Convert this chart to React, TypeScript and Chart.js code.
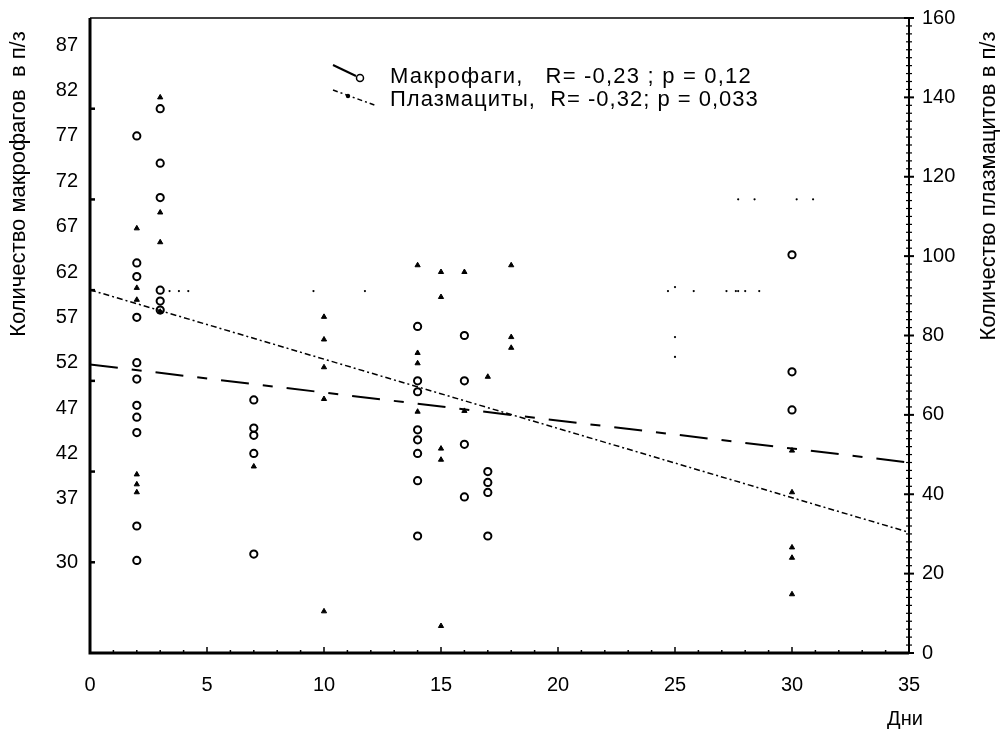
import React, { useEffect, useRef } from "react";
import { Chart, registerables } from "chart.js";

Chart.register(...registerables);

// ---- axis ticks ----
const xTickValues = [0, 5, 10, 15, 20, 25, 30, 35];
const leftTickValues = [30, 37, 42, 47, 52, 57, 62, 67, 72, 77, 82, 87];
const rightTickValues = [0, 20, 40, 60, 80, 100, 120, 140, 160];

// ---- macrophages (left axis) ----
const macroDays = [
  2, 2, 2, 2, 2, 2, 2, 2, 2, 2, 2,
  3, 3, 3, 3, 3, 3,
  7, 7, 7, 7, 7,
  14, 14, 14, 14, 14, 14, 14, 14,
  16, 16, 16, 16,
  17, 17, 17, 17,
  30, 30, 30,
];
const macroValues = [
  77, 63, 61.5, 57, 52, 50.2, 47.3, 46, 44.3, 34, 30.2,
  80, 74, 70.2, 60, 58.8, 57.8,
  47.9, 44.8, 44, 42, 30.9,
  56, 50, 48.8, 44.6, 43.5, 42, 39, 32.9,
  55, 50, 43, 37.2,
  40, 38.8, 37.7, 32.9,
  63.9, 51, 46.8,
];

// ---- plasmacytes (right axis), marked points ----
const plasmaDays = [
  2, 2, 2, 2, 2, 2,
  3, 3, 3, 3,
  7,
  10, 10, 10, 10, 10,
  14, 14, 14, 14,
  15, 15, 15, 15, 15,
  16, 16,
  17,
  18, 18, 18,
  30, 30, 30, 30, 30,
];
const plasmaValues = [
  107, 92, 89, 45, 42.5, 40.5,
  140, 111, 103.5, 86,
  47,
  84.7, 79, 72, 64, 10.5,
  97.7, 75.6, 73, 60.8,
  96, 89.7, 51.5, 48.7, 6.8,
  96, 61,
  69.6,
  97.7, 79.6, 76.9,
  51, 40.5, 26.6, 24, 14.8,
];

// ---- plasmacytes (right axis), faint dot points ----
const plasmaDotDays = [
  3.4, 3.8, 4.2, 9.55, 11.75,
  24.7, 25.0, 25.8, 27.2, 27.6, 27.7, 28.0, 28.6,
  27.7, 28.4, 30.2, 30.9,
  25.0, 25.0,
];
const plasmaDotValues = [
  91.2, 91.2, 91.2, 91.2, 91.2,
  91.2, 92.2, 91.2, 91.2, 91.2, 91.2, 91.2, 91.2,
  114.3, 114.3, 114.3, 114.3,
  79.6, 74.6,
];

// ---- regression lines ----
const fitDays = [0, 35];
const macroFit = [51.8, 41.0];
const plasmaFit = [91.5, 30.4];

// ---- texts ----
const leftTitle = "Количество макрофагов  в п/з";
const rightTitle = "Количество плазмацитов в п/з";
const xTitle = "Дни";
const legendLines = [
  "Макрофаги,   R= -0,23 ; p = 0,12",
  "Плазмациты,  R= -0,32; p = 0,033",
];

const FONT = "'Liberation Sans', Arial, sans-serif";

const zip = (xs: number[], ys: number[]) => xs.map((x, i) => ({ x, y: ys[i] }));

const decorPlugin = {
  id: "decor",
  afterDraw(chart: any) {
    const ctx = chart.ctx as CanvasRenderingContext2D;
    const { left, right, top, bottom } = chart.chartArea;
    const xs = chart.scales.x;
    const yl = chart.scales.y;
    const yr = chart.scales.y1;
    ctx.save();
    ctx.strokeStyle = "#000";
    ctx.fillStyle = "#000";

    // frame
    ctx.lineWidth = 3;
    ctx.beginPath();
    ctx.moveTo(left, top);
    ctx.lineTo(left, bottom);
    ctx.lineTo(right, bottom);
    ctx.stroke();
    ctx.lineWidth = 2;
    ctx.beginPath();
    ctx.moveTo(right, bottom);
    ctx.lineTo(right, top);
    ctx.stroke();
    ctx.lineWidth = 1.5;
    ctx.beginPath();
    ctx.moveTo(left, top);
    ctx.lineTo(right, top);
    ctx.stroke();

    // x ticks (inward)
    ctx.lineWidth = 1.5;
    for (let v = 0; v <= 35; v++) {
      const px = xs.getPixelForValue(v);
      const len = v % 5 === 0 ? 6 : 3;
      ctx.beginPath();
      ctx.moveTo(px, bottom);
      ctx.lineTo(px, bottom - len);
      ctx.stroke();
    }
    // left inward ticks
    ctx.lineWidth = 2.5;
    for (let v = 30; v <= 80; v += 10) {
      const py = yl.getPixelForValue(v);
      ctx.beginPath();
      ctx.moveTo(left, py);
      ctx.lineTo(left + 5, py);
      ctx.stroke();
    }
    // right ticks
    for (let v = 0; v <= 160; v += 2) {
      const py = yr.getPixelForValue(v);
      const major = v % 20 === 0;
      ctx.lineWidth = major ? 2 : 1.2;
      ctx.beginPath();
      ctx.moveTo(right - (major ? 5 : 3), py);
      ctx.lineTo(right + (major ? 5 : 3), py);
      ctx.stroke();
    }

    // axis titles
    ctx.font = `22px ${FONT}`;
    ctx.textAlign = "center";
    ctx.textBaseline = "middle";
    ctx.save();
    ctx.translate(19, 184);
    ctx.rotate(-Math.PI / 2);
    ctx.fillText(leftTitle, 0, 0);
    ctx.restore();
    ctx.save();
    ctx.translate(989, 186);
    ctx.rotate(-Math.PI / 2);
    ctx.fillText(rightTitle, 0, 0);
    ctx.restore();
    ctx.font = `20px ${FONT}`;
    ctx.fillText(xTitle, 905, 719);

    // legend
    ctx.textAlign = "left";
    ctx.font = `22px ${FONT}`;
    // symbol 1
    ctx.lineWidth = 2;
    ctx.setLineDash([]);
    ctx.beginPath();
    ctx.moveTo(333, 65);
    ctx.lineTo(356, 76);
    ctx.stroke();
    ctx.lineWidth = 1.5;
    ctx.beginPath();
    ctx.arc(360, 78, 3.5, 0, Math.PI * 2);
    ctx.stroke();
    (ctx as any).letterSpacing = "1.2px";
    ctx.fillText(legendLines[0], 390, 77);
    (ctx as any).letterSpacing = "0px";
    // symbol 2
    ctx.lineWidth = 1.5;
    ctx.setLineDash([5, 3, 2, 3]);
    ctx.beginPath();
    ctx.moveTo(333, 90);
    ctx.lineTo(377, 106);
    ctx.stroke();
    ctx.setLineDash([]);
    ctx.beginPath();
    ctx.arc(348, 96, 2.2, 0, Math.PI * 2);
    ctx.fill();
    (ctx as any).letterSpacing = "1px";
    ctx.fillText(legendLines[1], 390, 100);
    (ctx as any).letterSpacing = "0px";

    ctx.restore();
  },
};

export default function App() {
  const ref = useRef<HTMLCanvasElement | null>(null);

  useEffect(() => {
    document.body.style.margin = "0";
    const canvas = ref.current;
    if (!canvas) return;
    const tickFont = { family: FONT, size: 20 };
    const noPad = (s: any) => {
      s.paddingTop = 0;
      s.paddingBottom = 0;
      s.paddingLeft = 0;
      s.paddingRight = 0;
    };
    const chart = new Chart(canvas, {
      type: "scatter",
      data: {
        datasets: [
          {
            label: "Макрофаги",
            data: zip(macroDays, macroValues),
            yAxisID: "y",
            pointStyle: "circle",
            pointRadius: 3.6,
            pointBorderWidth: 2,
            pointBackgroundColor: "rgba(255,255,255,0)",
            pointBorderColor: "#000",
            showLine: false,
          },
          {
            label: "Плазмациты",
            data: zip(plasmaDays, plasmaValues),
            yAxisID: "y1",
            pointStyle: "triangle",
            pointRadius: 3,
            pointBorderWidth: 1,
            pointBackgroundColor: "#000",
            pointBorderColor: "#000",
            showLine: false,
          },
          {
            label: "Плазмациты (точки)",
            data: zip(plasmaDotDays, plasmaDotValues),
            yAxisID: "y1",
            pointStyle: "circle",
            pointRadius: 1.1,
            pointBorderWidth: 0,
            pointBackgroundColor: "#000",
            showLine: false,
          },
          {
            type: "line",
            label: "Макрофаги fit",
            data: zip(fitDays, macroFit),
            yAxisID: "y",
            borderColor: "#000",
            borderWidth: 2,
            borderDash: [28, 14, 10, 14],
            pointRadius: 0,
            fill: false,
          },
          {
            type: "line",
            label: "Плазмациты fit",
            data: zip(fitDays, plasmaFit),
            yAxisID: "y1",
            borderColor: "#000",
            borderWidth: 1.5,
            borderDash: [6, 3, 2, 3],
            pointRadius: 0,
            fill: false,
          },
        ] as any,
      },
      options: {
        responsive: false,
        animation: false,
        layout: { padding: { top: 18, left: 0, right: 0, bottom: 0 } },
        plugins: { legend: { display: false }, tooltip: { enabled: false }, title: { display: false } },
        scales: {
          x: {
            type: "linear",
            position: "bottom",
            min: 0,
            max: 35,
            grid: { display: false, drawTicks: false },
            border: { display: false },
            afterBuildTicks: (s: any) => {
              s.ticks = xTickValues.map((v) => ({ value: v }));
            },
            afterFit: (s: any) => {
              s.height = 86;
              noPad(s);
            },
            ticks: { color: "#000", font: tickFont, padding: 20, maxRotation: 0, autoSkip: false },
          },
          y: {
            type: "linear",
            position: "left",
            min: 20,
            max: 90,
            grid: { display: false, drawTicks: false },
            border: { display: false },
            afterBuildTicks: (s: any) => {
              s.ticks = leftTickValues.map((v) => ({ value: v }));
            },
            afterFit: (s: any) => {
              s.width = 90;
              noPad(s);
            },
            ticks: { color: "#000", font: tickFont, padding: 12, autoSkip: false },
          },
          y1: {
            type: "linear",
            position: "right",
            min: 0,
            max: 160,
            grid: { display: false, drawTicks: false },
            border: { display: false },
            afterBuildTicks: (s: any) => {
              s.ticks = rightTickValues.map((v) => ({ value: v }));
            },
            afterFit: (s: any) => {
              s.width = 97;
              noPad(s);
            },
            ticks: { color: "#000", font: tickFont, padding: 13, autoSkip: false },
          },
        },
      } as any,
      plugins: [decorPlugin],
    });
    return () => chart.destroy();
  }, []);

  return (
    <div style={{ width: 1006, height: 739, background: "#fff" }}>
      <canvas ref={ref} width={1006} height={739} style={{ display: "block" }} />
    </div>
  );
}
